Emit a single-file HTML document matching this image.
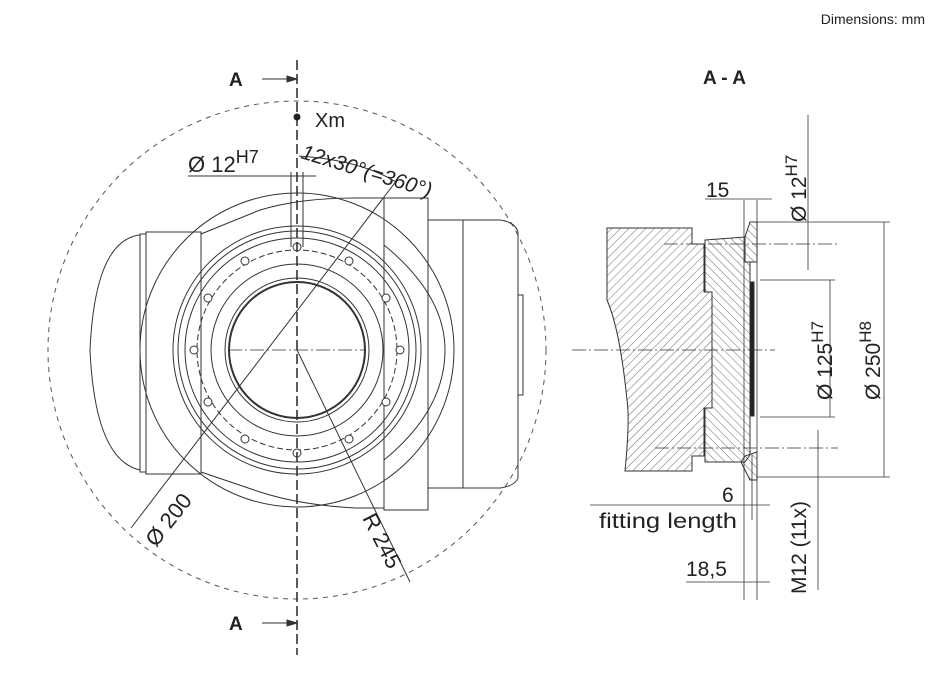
<!DOCTYPE html>
<html><head><meta charset="utf-8"><style>
html,body{margin:0;padding:0;background:#fff;}
svg{display:block}
text{font-family:"Liberation Sans",sans-serif;fill:#222}
</style></head><body>
<svg width="951" height="674" viewBox="0 0 951 674" xmlns="http://www.w3.org/2000/svg">
<defs>
<pattern id="h1" width="6" height="6" patternUnits="userSpaceOnUse" patternTransform="rotate(45)">
<line x1="0" y1="0" x2="0" y2="6" stroke="#444" stroke-width="0.8"/></pattern>
<pattern id="h2" width="6" height="6" patternUnits="userSpaceOnUse" patternTransform="rotate(-45)">
<line x1="0" y1="0" x2="0" y2="6" stroke="#444" stroke-width="0.8"/></pattern>
</defs>
<text x="925" y="24" font-size="14" text-anchor="end">Dimensions: mm</text>

<!-- LEFT VIEW -->
<g fill="none" stroke="#333" stroke-width="1">
<circle cx="297" cy="350" r="249" stroke-dasharray="5,5" stroke="#555"/>
<path d="M140 235 Q95 240 90 350 Q95 460 140 470 Z"/>
<rect x="140" y="234" width="6" height="238"/>
<rect x="146" y="232" width="55" height="242"/>
<path d="M201 234 L260 210 Q300 198 355 198 L384 198 M201 472 L260 492 Q300 505 355 508 L384 508"/>
<rect x="384" y="198" width="44" height="312"/>
<rect x="428" y="220" width="35" height="268"/>
<path d="M463 220 L500 220 Q515 222 518 232 L518 478 Q515 486 500 488 L463 488 Z"/>
<rect x="518" y="295" width="5" height="100"/>
<path d="M384 245 Q445 295 445 350 Q445 410 384 460"/>
<circle cx="297" cy="350" r="157"/>
<ellipse cx="297" cy="350" rx="124" ry="124"/>
<ellipse cx="297" cy="350" rx="119" ry="119"/>
<ellipse cx="297" cy="350" rx="112" ry="112"/>
<ellipse cx="297" cy="350" rx="100" ry="100" stroke-dasharray="6,3"/>
<ellipse cx="297" cy="350" rx="86" ry="86"/>
<ellipse cx="297" cy="350" rx="72" ry="72"/>
<ellipse cx="297" cy="350" rx="68" ry="68" stroke-width="2"/>
<g fill="#fff">
<circle cx="297" cy="247" r="4"/><circle cx="349" cy="261" r="4"/><circle cx="386" cy="298" r="4"/>
<circle cx="400" cy="350" r="4"/><circle cx="386" cy="402" r="4"/><circle cx="349" cy="439" r="4"/>
<circle cx="297" cy="453" r="4"/><circle cx="245" cy="439" r="4"/><circle cx="208" cy="402" r="4"/>
<circle cx="194" cy="350" r="4"/><circle cx="208" cy="298" r="4"/><circle cx="245" cy="261" r="4"/>
</g>
<line x1="297" y1="60" x2="297" y2="655" stroke-dasharray="10,4" stroke-width="1.6"/>
<line x1="228" y1="350" x2="366" y2="350" stroke-dasharray="14,3,2,3" stroke-width="0.8"/>
<line x1="291" y1="172" x2="291" y2="247"/><line x1="303" y1="172" x2="303" y2="247"/>
<line x1="188" y1="176" x2="316" y2="176"/>
<path d="M299 156 Q360 160 396 182"/>
<line x1="131" y1="528" x2="397" y2="180"/>
<line x1="297" y1="350" x2="410" y2="582"/>
<line x1="262" y1="79" x2="293" y2="79"/><path d="M297 79 L287 76 L287 82 Z" fill="#333"/>
<line x1="262" y1="623" x2="293" y2="623"/><path d="M297 623 L287 620 L287 626 Z" fill="#333"/>
</g>
<circle cx="297" cy="117" r="3.5" fill="#222"/>
<text x="229" y="86" font-size="19" font-weight="bold">A</text>
<text x="229" y="630" font-size="19" font-weight="bold">A</text>
<text x="315" y="127" font-size="20">Xm</text>
<text x="188" y="172" font-size="22">Ø 12<tspan font-size="18" dy="-9">H7</tspan></text>
<text x="300" y="158" font-size="21" font-style="italic" transform="rotate(17 300 158)">12x30°(=360°)</text>
<text x="156" y="548" font-size="22" transform="rotate(-52 156 548)">Ø 200</text>
<text x="362" y="518" font-size="22" transform="rotate(63 362 518)">R 245</text>

<!-- RIGHT VIEW -->
<text x="703" y="84" font-size="19" font-weight="bold">A - A</text>
<g stroke="#333" stroke-width="1">
<path d="M607 228 L692 228 L692 244 L704 244 L704 292 L712 292 L712 408 L704 408 L704 456 L692 456 L692 471 L625 471 Q630 420 627 400 Q620 330 607 300 Z" fill="url(#h1)"/>
<path d="M705 240 L745 237 L745 262 L750 262 L750 455 L745 462 L705 462 L705 408 L712 408 L712 292 L705 292 Z" fill="url(#h2)"/>
<path d="M745 237 L750 222 L757 222 L757 262 L745 262 Z" fill="url(#h2)"/>
<path d="M745 456 L741 462 L750 480 L757 480 L757 452 Z" fill="url(#h2)"/>
<rect x="750" y="282" width="4" height="134" fill="#222"/>
</g>
<g fill="none" stroke="#333" stroke-width="0.8">
<line x1="757" y1="200" x2="757" y2="600"/>
<line x1="744" y1="200" x2="744" y2="600"/>
<line x1="752" y1="455" x2="752" y2="520"/>
<line x1="572" y1="350" x2="775" y2="350" stroke-dasharray="14,3,2,3"/>
<line x1="664" y1="244" x2="838" y2="244" stroke-dasharray="14,3,2,3"/>
<line x1="655" y1="448" x2="838" y2="448" stroke-dasharray="14,3,2,3"/>
<line x1="705" y1="199" x2="772" y2="199"/>
<line x1="808" y1="115" x2="808" y2="270"/>
<line x1="818" y1="430" x2="818" y2="590"/>
<line x1="760" y1="280" x2="835" y2="280"/><line x1="760" y1="417" x2="835" y2="417"/>
<line x1="830" y1="280" x2="830" y2="417"/>
<line x1="757" y1="222" x2="890" y2="222"/><line x1="757" y1="477" x2="890" y2="477"/>
<line x1="884" y1="222" x2="884" y2="477"/>
<line x1="590" y1="505" x2="770" y2="505"/>
<line x1="686" y1="582" x2="770" y2="582"/>
</g>
<text x="706" y="197" font-size="21">15</text>
<text x="806" y="222" font-size="21" transform="rotate(-90 806 222)">Ø 12<tspan font-size="17" dy="-9">H7</tspan></text>
<text x="832" y="400" font-size="21" transform="rotate(-90 832 400)">Ø 125<tspan font-size="17" dy="-9">H7</tspan></text>
<text x="880" y="400" font-size="21" transform="rotate(-90 880 400)">Ø 250<tspan font-size="17" dy="-9">H8</tspan></text>
<text x="722" y="502" font-size="21">6</text>
<text x="599" y="528" font-size="21" textLength="138" lengthAdjust="spacingAndGlyphs">fitting length</text>
<text x="686" y="576" font-size="21">18,5</text>
<text x="806" y="594" font-size="21" transform="rotate(-90 806 594)">M12 (11x)</text>
</svg>
</body></html>
